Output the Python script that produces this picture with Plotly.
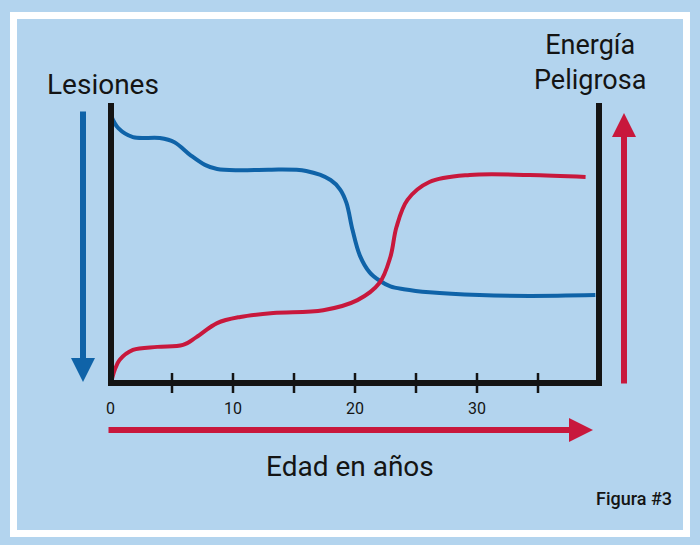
import plotly.graph_objects as go

# ---- data ----
lesiones_x = [0, 0.6, 1.8, 4.0, 5.2, 6.5, 7.7, 8.7, 10.6, 13.0, 16.0, 18.0, 18.8, 19.3, 19.8, 20.4, 21.2, 22.0, 22.9, 24.0, 26.1, 30.2, 34.3, 39.7]
lesiones_y = [95.5, 91, 87.8, 87.5, 86, 81.4, 77.9, 76.4, 76, 76.2, 75.7, 72.5, 69, 64.3, 54.6, 45.5, 39.5, 36.6, 34.5, 33.5, 32.4, 31.4, 31.1, 31.4]

energia_x = [0, 0.3, 0.7, 1.8, 3.8, 5.9, 7.0, 8.7, 10.6, 13.3, 17.4, 20.2, 22.0, 22.9, 23.4, 24.3, 26.1, 29.4, 34.3, 38.9]
energia_y = [0, 4.6, 8.2, 11.8, 12.9, 13.6, 16.4, 21.4, 23.6, 25.0, 26.0, 29.6, 35.7, 45.0, 55.7, 65.4, 71.8, 74.3, 74.3, 73.6]

tick_marks = [5, 10, 15, 20, 25, 30, 35]
tick_labels = [0, 10, 20, 30]

X_MAX = 40
Y_MAX = 100

BLUE = "#0f63a8"
RED = "#c8183c"
BLACK = "#141414"
BG = "#b3d4ee"

W, H = 700, 545

# pixel geometry of the data box (x: 0..40 -> 111..599, y: 0..100 -> 383..103)
X0P, X1P = 111, 599
Y0P, Y1P = 383, 103
XPAD, YPAD = 1.0, 5.0
sx = (X1P - X0P) / X_MAX
sy = (Y0P - Y1P) / Y_MAX


def px(xp):
    return xp / W


def py(yp):
    return 1 - yp / H


fig = go.Figure()

fig.add_trace(go.Scatter(x=lesiones_x, y=lesiones_y, mode="lines",
                         line=dict(color=BLUE, width=4, shape="spline", smoothing=1.0),
                         name="Lesiones", hoverinfo="skip"))
fig.add_trace(go.Scatter(x=energia_x, y=energia_y, mode="lines",
                         line=dict(color=RED, width=4, shape="spline", smoothing=1.0),
                         name="Energía Peligrosa", hoverinfo="skip"))

shapes = []
# white frame
shapes.append(dict(type="rect", xref="paper", yref="paper",
                   x0=px(13.5), x1=px(686.5), y0=py(533.5), y1=py(15.5),
                   line=dict(color="white", width=7), layer="below"))
# black axes frame (left, bottom, right)
shapes.append(dict(type="path", xref="x", yref="y",
                   path=f"M 0,{Y_MAX} L 0,0 L {X_MAX},0 L {X_MAX},{Y_MAX}",
                   line=dict(color=BLACK, width=6)))
# tick marks crossing the bottom axis
for t in tick_marks:
    shapes.append(dict(type="line", xref="x", yref="y",
                       x0=t, x1=t, y0=10 / sy, y1=-10 / sy,
                       line=dict(color=BLACK, width=2.5)))

annotations = []
for t in tick_labels:
    annotations.append(dict(x=t, y=py(408), xref="x", yref="paper", text=str(t),
                            showarrow=False, font=dict(family="Roboto", size=16, color=BLACK),
                            xanchor="center", yanchor="middle"))

# arrows
annotations.append(dict(x=px(83), y=py(382), xref="paper", yref="paper", text="",
                        showarrow=True, ax=0, ay=-272, arrowhead=2, arrowsize=0.8,
                        arrowwidth=6, arrowcolor=BLUE, standoff=0))
annotations.append(dict(x=px(624), y=py(113), xref="paper", yref="paper", text="",
                        showarrow=True, ax=0, ay=272, arrowhead=2, arrowsize=0.8,
                        arrowwidth=6, arrowcolor=RED, standoff=0))
annotations.append(dict(x=px(593), y=py(430), xref="paper", yref="paper", text="",
                        showarrow=True, ax=-486, ay=0, arrowhead=2, arrowsize=0.8,
                        arrowwidth=6, arrowcolor=RED, standoff=0))

# texts
annotations.append(dict(x=px(103), y=py(85), xref="paper", yref="paper", text="Lesiones",
                        showarrow=False, font=dict(family="Roboto", size=28, color=BLACK),
                        xanchor="center", yanchor="middle"))
annotations.append(dict(x=px(590), y=py(62), xref="paper", yref="paper",
                        text="Energía<br>Peligrosa",
                        showarrow=False, font=dict(family="Roboto", size=27, color=BLACK),
                        xanchor="center", yanchor="middle"))
annotations.append(dict(x=px(350), y=py(466), xref="paper", yref="paper", text="Edad en años",
                        showarrow=False, font=dict(family="Roboto", size=28, color=BLACK),
                        xanchor="center", yanchor="middle"))
annotations.append(dict(x=px(634), y=py(498), xref="paper", yref="paper", text="Figura #3",
                        showarrow=False, font=dict(family="Roboto", size=18, color=BLACK, weight=500),
                        xanchor="center", yanchor="middle"))

fig.update_layout(
    width=W, height=H,
    margin=dict(l=0, r=0, t=0, b=0),
    paper_bgcolor=BG, plot_bgcolor="rgba(0,0,0,0)",
    showlegend=False,
    xaxis=dict(domain=[px(X0P - XPAD * sx), px(X1P + XPAD * sx)],
               range=[-XPAD, X_MAX + XPAD], visible=False, fixedrange=True),
    yaxis=dict(domain=[py(Y0P + YPAD * sy), py(Y1P - YPAD * sy)],
               range=[-YPAD, Y_MAX + YPAD], visible=False, fixedrange=True),
    shapes=shapes,
    annotations=annotations,
)

fig.write_html("out.html", config={"displayModeBar": False},
               post_script="document.body.style.margin='0';document.body.style.background='" + BG + "';")
